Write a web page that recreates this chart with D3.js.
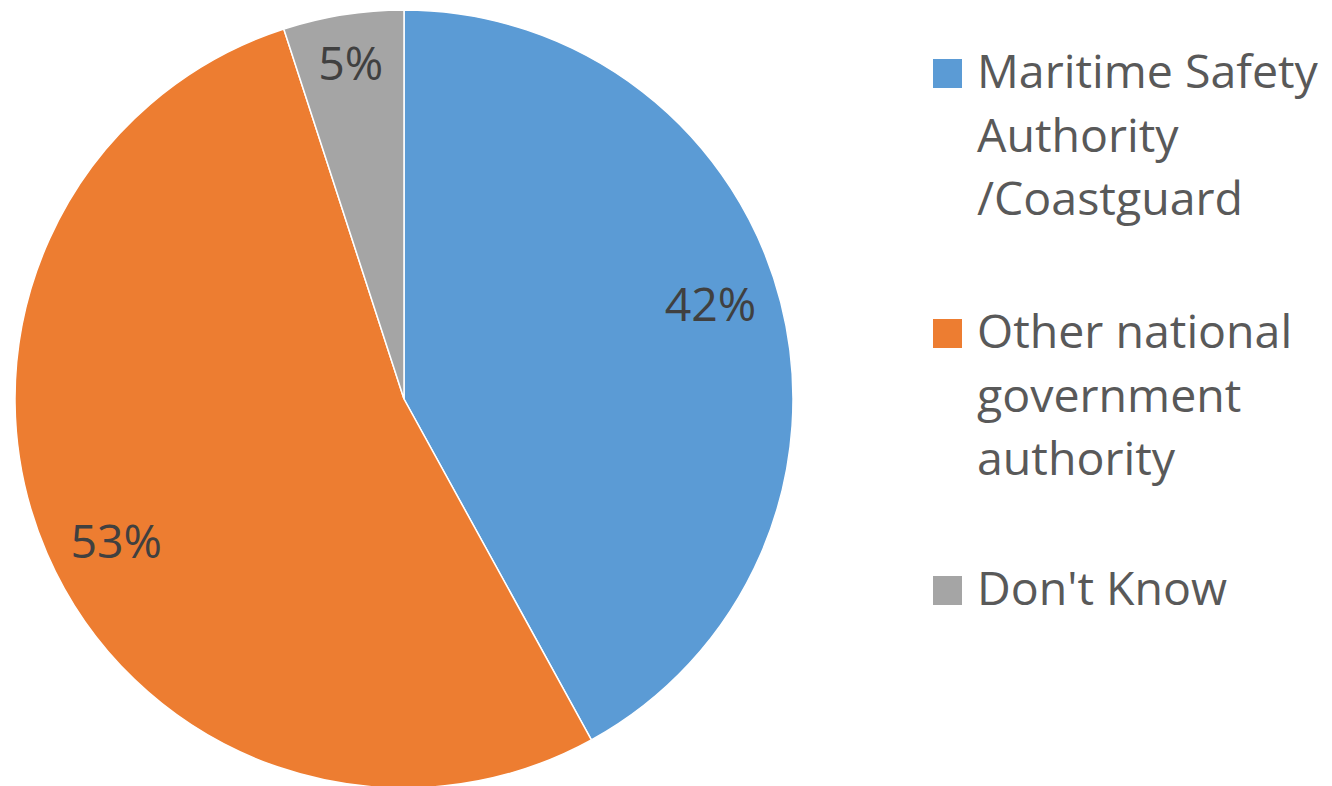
<!DOCTYPE html>
<html><head><meta charset="utf-8">
<script src="https://cdn.jsdelivr.net/npm/d3@7"></script>
<style>html,body{margin:0;padding:0;background:#fff;overflow:hidden}</style>
</head><body>
<svg id="chart" width="1332" height="786"></svg>
<script>
const categories = ["Maritime Safety Authority /Coastguard", "Other national government authority", "Don't Know"];
const legendLines = [["Maritime Safety", "Authority", "/Coastguard"], ["Other national", "government", "authority"], ["Don't Know"]];
const values = [42, 53, 5];
const colors = ["#5B9BD5", "#ED7D31", "#A5A5A5"];

const svg = d3.select("#chart");
const cx = 404, cy = 399, R = 389;
const font = "'Open Sans', sans-serif";

// fit font size to reference text width
const probe = svg.append("text").attr("font-family", font).attr("font-size", 40).text("Maritime Safety");
const w40 = probe.node().getComputedTextLength();
probe.remove();
const fs = 40 * 341 / w40;

const pie = d3.pie().value(d => d).sort(null);
const arcs = pie(values);
const arc = d3.arc().innerRadius(0).outerRadius(R);

const g = svg.append("g").attr("transform", `translate(${cx},${cy})`);
g.selectAll("path.slice").data(arcs).join("path")
  .attr("class", "slice")
  .attr("d", arc)
  .attr("fill", (d, i) => colors[i])
  .attr("stroke", "#fff").attr("stroke-width", 1.5);

const labelPos = d => {
  const small = (d.endAngle - d.startAngle) < 0.5;
  const k = small ? 0.875 : 0.825;
  const a = (d.startAngle + d.endAngle) / 2 - (small ? 0 : 0.05);
  return [Math.sin(a) * R * k, -Math.cos(a) * R * k];
};
g.selectAll("text.lbl").data(arcs).join("text")
  .attr("class", "lbl")
  .attr("x", d => labelPos(d)[0])
  .attr("y", d => labelPos(d)[1])
  .attr("dy", "0.36em")
  .attr("text-anchor", "middle")
  .attr("font-family", font).attr("font-size", fs)
  .attr("fill", "#404040")
  .text(d => d.data + "%");

// legend
const lineH = 63.5;
const groupStarts = [88, 348, 605];
const leg = svg.append("g");
legendLines.forEach((lines, i) => {
  const b = groupStarts[i];
  leg.append("rect").attr("x", 933).attr("y", b - 29).attr("width", 29).attr("height", 29).attr("fill", colors[i]);
  const t = leg.append("text").attr("font-family", font).attr("font-size", fs).attr("fill", "#595959");
  lines.forEach((ln, j) => {
    t.append("tspan").attr("x", 977).attr("y", b + j * lineH).text(ln);
  });
});
</script>
</body></html>
